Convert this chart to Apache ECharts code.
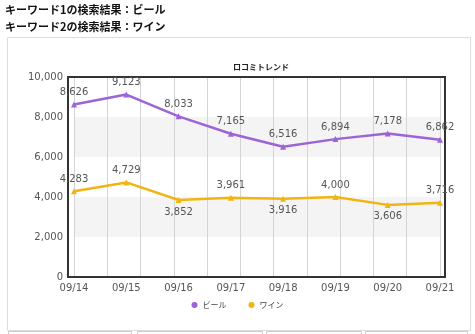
<!DOCTYPE html>
<html><head><meta charset="utf-8">
<script src="https://cdn.jsdelivr.net/npm/echarts@6/dist/echarts.min.js"></script>
<style>html,body{margin:0;padding:0;background:#fff}#c{width:475px;height:334px}</style>
</head><body><div id="c"></div>
<script>
const categories = ['09/14','09/15','09/16','09/17','09/18','09/19','09/20','09/21'];
const beer = [8626, 9123, 8033, 7165, 6516, 6894, 7178, 6862];
const wine = [4283, 4729, 3852, 3961, 3916, 4000, 3606, 3716];
const wineLabelPos = ['top','top','bottom','top','bottom','top','bottom','top'];
const seriesNames = ['ビール','ワイン'];
const headers = ['キーワード1の検索結果：ビール','キーワード2の検索結果：ワイン'];
const FONT = '"Noto Sans CJK JP", "Noto Sans", sans-serif';
const NUMFONT = 'Verdana, "DejaVu Sans", sans-serif';
const chart = echarts.init(document.getElementById('c'));
const fmt = v => Number(v).toLocaleString('en-US');
chart.setOption({
  animation: false,
  textStyle: {fontFamily: FONT},
  title: {text: 'ロコミトレンド', left: 256, textAlign: 'center', top: 58,
    textStyle: {fontSize: 8, fontWeight: 'bold', color: '#222', fontFamily: FONT}},
  legend: {data: seriesNames, bottom: 20, left: 'center', icon: 'circle', itemWidth: 6, itemHeight: 6,
    itemGap: 22, textStyle: {fontSize: 8, color: '#444', fontFamily: FONT}},
  graphic: [
    {type: 'text', left: 5, top: 4, style: {text: headers[0], font: 'bold 11px ' + FONT, fill: '#111'}},
    {type: 'text', left: 5, top: 21, style: {text: headers[1], font: 'bold 11px ' + FONT, fill: '#111'}},
    {type: 'rect', shape: {x: 7.5, y: 37.5, width: 463, height: 293}, style: {fill: 'none', stroke: '#ddd', lineWidth: 1}, z: -10},
    {type: 'rect', shape: {x: 68, y: 77, width: 377, height: 200}, style: {fill: 'none', stroke: '#333', lineWidth: 2}, z: 1},
    {type: 'rect', shape: {x: 8.5, y: 331.5, width: 123, height: 10}, style: {fill: 'none', stroke: '#ccc', lineWidth: 1}, z: -10},
    {type: 'rect', shape: {x: 137.5, y: 331.5, width: 125, height: 10}, style: {fill: 'none', stroke: '#ccc', lineWidth: 1}, z: -10},
    {type: 'rect', shape: {x: 266.5, y: 331.5, width: 95, height: 10}, style: {fill: 'none', stroke: '#ccc', lineWidth: 1}, z: -10},
    {type: 'rect', shape: {x: 365.5, y: 331.5, width: 102, height: 10}, style: {fill: 'none', stroke: '#ccc', lineWidth: 1}, z: -10}
  ],
  grid: [
    {left: 74, right: 35, top: 77, bottom: 57}
  ],
  xAxis: [
    {type: 'category', data: categories, boundaryGap: false, gridIndex: 0,
      axisLine: {show: false}, axisTick: {show: false}, splitLine: {show: false},
      axisLabel: {fontSize: 10, color: '#555', margin: 6, fontFamily: NUMFONT}},
    {type: 'value', min: 0, max: 11, interval: 1, gridIndex: 0, position: 'top',
      axisLine: {show: false}, axisTick: {show: false}, axisLabel: {show: false},
      splitLine: {show: true, lineStyle: {color: '#d4d4d4', width: 1}}}
  ],
  yAxis: [
    {type: 'value', min: 0, max: 10000, interval: 2000, gridIndex: 0,
      axisLine: {show: false}, axisTick: {show: false}, splitLine: {show: false},
      splitArea: {show: true, areaStyle: {color: ['rgba(255,255,255,0)', 'rgba(0,0,0,0.045)']}},
      axisLabel: {fontSize: 10, color: '#555', margin: 11, formatter: fmt, fontFamily: NUMFONT}}
  ],
  series: [
    {name: seriesNames[0], type: 'line', data: beer, xAxisIndex: 0, yAxisIndex: 0,
      color: '#9c64d6', symbol: 'triangle', symbolSize: 6, lineStyle: {width: 2.5},
      label: {show: true, position: 'top', distance: 4, fontSize: 10, color: '#555', formatter: p => fmt(p.value), fontFamily: NUMFONT}},
    {name: seriesNames[1], type: 'line', xAxisIndex: 0, yAxisIndex: 0,
      data: wine.map((v, i) => ({value: v, label: {position: wineLabelPos[i]}})),
      color: '#f2b410', symbol: 'triangle', symbolSize: 6, lineStyle: {width: 2.5},
      label: {show: true, distance: 4, fontSize: 10, color: '#555', formatter: p => fmt(p.value), fontFamily: NUMFONT}}
  ]
});
</script></body></html>
